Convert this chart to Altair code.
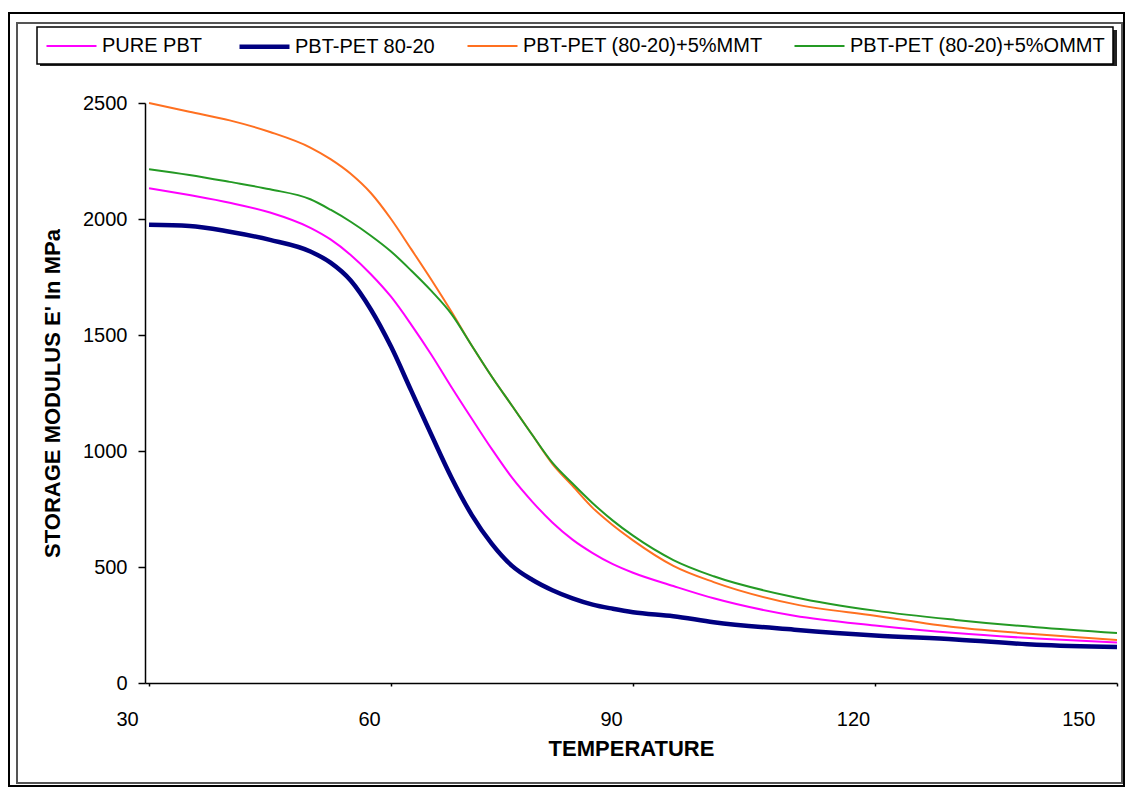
import altair as alt
import pandas as pd

temperature = [30, 35, 40, 45, 50, 52.5, 55, 57.5, 60, 62.5, 65, 67.5, 70, 72.5,
               75, 77.5, 80, 82.5, 85, 87.5, 90, 95, 100, 110, 120, 130, 140, 150]

pure_pbt = [2133, 2103, 2070, 2028, 1962, 1912, 1845, 1762, 1665, 1545, 1415, 1275, 1140, 1008,
            885, 782, 692, 618, 560, 512, 475, 418, 365, 290, 248, 215, 192, 175]
pbt_pet = [1975, 1970, 1945, 1910, 1860, 1812, 1735, 1610, 1450, 1260, 1070, 885, 725, 600,
           505, 445, 400, 365, 338, 320, 305, 288, 262, 230, 205, 188, 165, 155]
mmt = [2500, 2462, 2425, 2375, 2308, 2258, 2195, 2112, 2000, 1870, 1738, 1600, 1455, 1320,
       1195, 1070, 945, 850, 755, 680, 615, 505, 435, 340, 290, 240, 210, 185]
ommt = [2215, 2190, 2160, 2128, 2085, 2040, 1988, 1928, 1860, 1778, 1690, 1590, 1455, 1320,
        1195, 1070, 950, 860, 775, 700, 635, 530, 460, 370, 312, 272, 240, 215]

series_names = ["PURE PBT", "PBT-PET 80-20", "PBT-PET (80-20)+5%MMT", "PBT-PET (80-20)+5%OMMT"]
series_colors = ["#FF00FF", "#000080", "#FF7020", "#249A24"]
series_widths = [2, 4.5, 2, 2]

rows = []
for name, vals in zip(series_names, [pure_pbt, pbt_pet, mmt, ommt]):
    for t, v in zip(temperature, vals):
        rows.append({"T": t, "E": v, "series": name})
df = pd.DataFrame(rows)

FONT = "Liberation Sans"

one = pd.DataFrame({"a": [0]})

outer = alt.Chart(one).mark_rect(fillOpacity=0, stroke="black", strokeWidth=2).encode(
    x=alt.value(-136), x2=alt.value(979), y=alt.value(-90), y2=alt.value(683))
inner = alt.Chart(one).mark_rect(fillOpacity=0, stroke="#555555", strokeWidth=2).encode(
    x=alt.value(-128), x2=alt.value(977), y=alt.value(-80), y2=alt.value(680))
shadow = alt.Chart(one).mark_rect(fill="#222222").encode(
    x=alt.value(-105), x2=alt.value(972), y=alt.value(-73), y2=alt.value(-37))

lines = alt.Chart(df).mark_line(interpolate="monotone").encode(
    x=alt.X("T:Q", scale=alt.Scale(domain=[29.5, 150], nice=False, zero=False),
            axis=alt.Axis(title="TEMPERATURE", values=[30, 60, 90, 120, 150],
                          tickSize=3, labelPadding=23, labelOffset=-22, titlePadding=9)),
    y=alt.Y("E:Q", scale=alt.Scale(domain=[0, 2500], nice=False),
            axis=alt.Axis(title="STORAGE MODULUS E' In MPa", values=[0, 500, 1000, 1500, 2000, 2500],
                          format="d", tickSize=7, labelPadding=11, titlePadding=18)),
    color=alt.Color("series:N", sort=series_names,
                    scale=alt.Scale(domain=series_names, range=series_colors),
                    legend=alt.Legend(title=None)),
    strokeWidth=alt.StrokeWidth("series:N", sort=series_names,
                                scale=alt.Scale(type="ordinal", domain=series_names, range=series_widths),
                                legend=alt.Legend(title=None)),
    order=alt.Order("T:Q"),
)

chart = alt.layer(outer, inner, shadow, lines).properties(
    width=972, height=580,
    autosize=alt.AutoSizeParams(type="none"),
    padding={"left": 137, "top": 95, "right": 8, "bottom": 104},
).configure_view(stroke=None).configure_axis(
    grid=False, labelFont=FONT, titleFont=FONT, labelFontSize=20, titleFontSize=22,
    titleFontWeight="bold", labelColor="black", titleColor="black",
    domainColor="black", tickColor="black", domainWidth=1.5, tickWidth=1.5, zindex=1,
).configure_legend(
    orient="none", legendX=-108, legendY=-76, direction="horizontal", columns=4,
    labelFont=FONT, labelFontSize=20, labelColor="black", labelLimit=0,
    symbolType="M-1,0H4", symbolSize=400, labelOffset=33, columnPadding=27, padding=7,
    strokeColor="black", strokeWidth=1.5, fillColor="white", symbolStrokeWidth=2.5,
)

chart.save("out.html", embed_options={"renderer": "svg", "actions": False})
